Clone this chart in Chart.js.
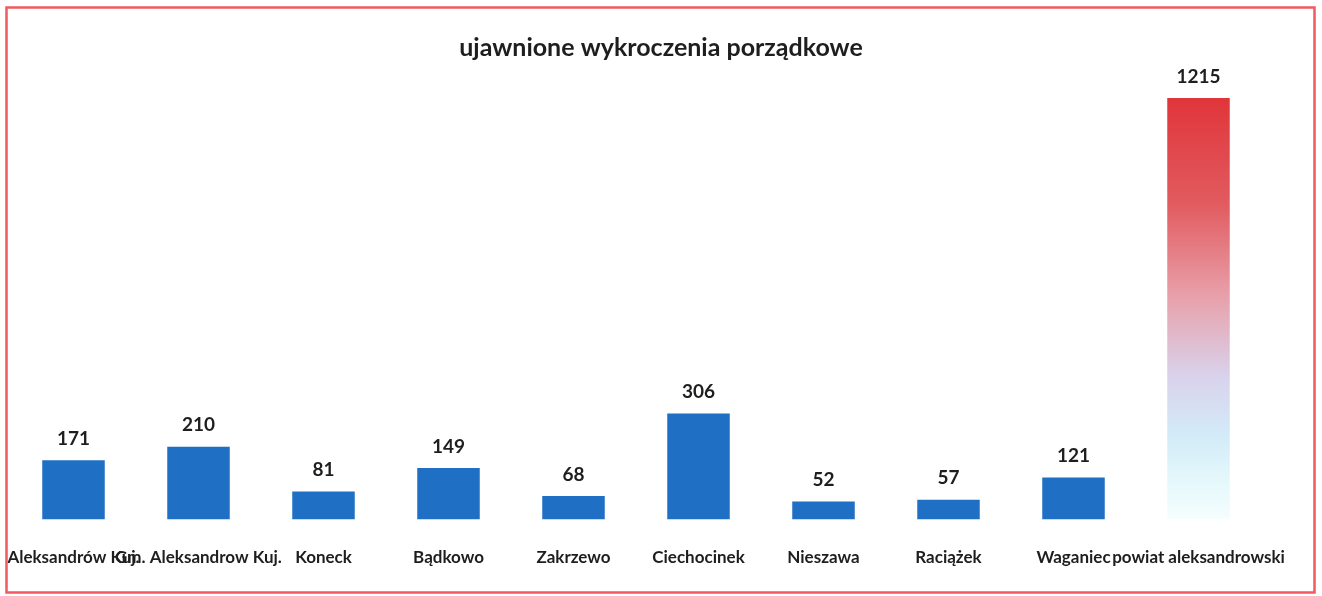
<!DOCTYPE html>
<html>
<head>
<meta charset="utf-8">
<script src="https://cdn.jsdelivr.net/npm/chart.js@4/dist/chart.umd.min.js"></script>
<style>
  html, body { margin: 0; padding: 0; background: #fff; }
  #wrap { position: relative; width: 1322px; height: 596px; }
</style>
</head>
<body>
<div id="wrap"><canvas id="chartCanvas" width="1322" height="596"></canvas></div>
<script>
// data
const categories = ['Aleksandrów Kuj.', 'Gm. Aleksandrow Kuj.', 'Koneck', 'Bądkowo', 'Zakrzewo',
                    'Ciechocinek', 'Nieszawa', 'Raciążek', 'Waganiec', 'powiat aleksandrowski'];
const values = [171, 210, 81, 149, 68, 306, 52, 57, 121, 1215];
const chartTitle = 'ujawnione wykroczenia porządkowe';

const FONT = 'Lato, "Open Sans", sans-serif';
const BLUE = '#1f6fc5';

function barColor(ctx) {
    const chart = ctx.chart;
    if (ctx.dataIndex !== values.length - 1) return BLUE;
    const area = chart.chartArea;
    if (!area) return '#e0373a';
    const yScale = chart.scales.y;
    const top = yScale.getPixelForValue(values[values.length - 1]);
    const bottom = yScale.getPixelForValue(0);
    const g = chart.ctx.createLinearGradient(0, top, 0, bottom);
    g.addColorStop(0, '#e0353a');
    g.addColorStop(0.25, '#e15b5f');
    g.addColorStop(0.47, '#e8a0aa');
    g.addColorStop(0.66, '#d9d2ec');
    g.addColorStop(0.8, '#d3ebf8');
    g.addColorStop(0.92, '#e6f9fc');
    g.addColorStop(1, '#f6fdfe');
    return g;
}

// values above the bars
const valueLabels = {
    id: 'valueLabels',
    afterDatasetsDraw(chart) {
        const ctx = chart.ctx;
        const meta = chart.getDatasetMeta(0);
        ctx.save();
        ctx.font = 'bold 19px ' + FONT;
        ctx.fillStyle = '#1e1e1e';
        ctx.textAlign = 'center';
        ctx.textBaseline = 'bottom';
        meta.data.forEach((bar, i) => {
            ctx.fillText(String(values[i]), bar.x, bar.y - 12);
        });
        ctx.restore();
    }
};

// title centred on the page, and the red frame round the whole chart
const frame = {
    id: 'frame',
    afterDraw(chart) {
        const ctx = chart.ctx;
        ctx.save();
        ctx.font = 'bold 25px ' + FONT;
        ctx.fillStyle = '#1e1e1e';
        ctx.textAlign = 'center';
        ctx.textBaseline = 'middle';
        ctx.fillText(chartTitle, chart.width / 2, 48);
        ctx.strokeStyle = '#f05a60';
        ctx.lineWidth = 2.5;
        ctx.strokeRect(6.5, 7.5, 1308, 585);
        ctx.restore();
    }
};

new Chart(document.getElementById('chartCanvas').getContext('2d'), {
    type: 'bar',
    data: {
        labels: categories,
        datasets: [{
            data: values,
            backgroundColor: barColor,
            borderWidth: 0,
            categoryPercentage: 1,
            barPercentage: 0.5
        }]
    },
    options: {
        responsive: false,
        animation: false,
        layout: { padding: { left: 11, right: 61, top: 80, bottom: 0 } },
        plugins: {
            legend: { display: false },
            tooltip: { enabled: false },
            title: { display: false }
        },
        scales: {
            x: {
                grid: { display: false, drawTicks: false },
                border: { display: false },
                ticks: {
                    autoSkip: false,
                    maxRotation: 0,
                    minRotation: 0,
                    padding: 28,
                    color: '#1e1e1e',
                    font: { family: FONT, size: 17, weight: 'bold', lineHeight: 1.2 }
                },
                afterFit(scale) {
                    // let the long end labels run past the plot edge, as in the original
                    scale.paddingLeft = 0;
                    scale.paddingRight = 0;
                }
            },
            y: {
                display: false,
                min: 0,
                max: 1267
            }
        }
    },
    plugins: [valueLabels, frame]
});
</script>
</body>
</html>
